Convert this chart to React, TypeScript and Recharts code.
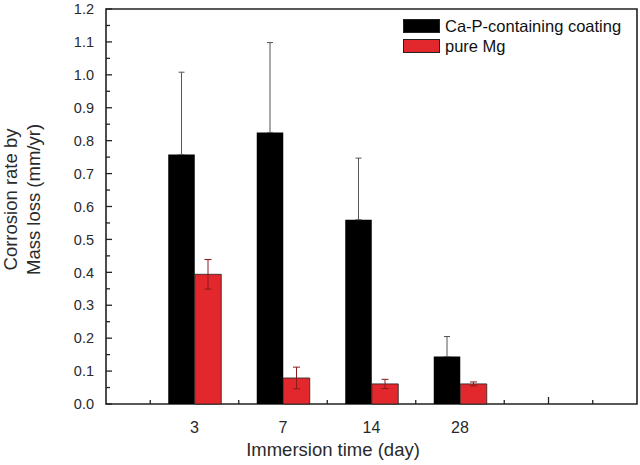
import React from "react";
import { BarChart, Bar, XAxis, YAxis, ErrorBar, Legend, ReferenceArea } from "recharts";

// immersion time categories and where they sit on the x axis
const days = ["3", "7", "14", "28"];
const slots = [1, 2, 3, 4];

// corrosion rate (mm/yr)
const coating = [0.758, 0.825, 0.56, 0.144];
const coatingErr = [0.25, 0.273, 0.187, 0.061];
const pureMg = [0.394, 0.079, 0.061, 0.061];
const pureMgErr = [0.045, 0.033, 0.014, 0.006];

const seriesNames = ["Ca-P-containing coating", "pure Mg"];
const seriesColors = ["#000000", "#e3282d"];

const yMajorTicks = [0, 0.1, 0.2, 0.3, 0.4, 0.5, 0.6, 0.7, 0.8, 0.9, 1.0, 1.1, 1.2];
const yMinorTicks = [0.05, 0.15, 0.25, 0.35, 0.45, 0.55, 0.65, 0.75, 0.85, 0.95, 1.05, 1.15];
const xMarks = [0.5, 1.5, 2.5, 3.5, 4.5, 5, 5.5];
const xLongMarks = [5];

const font = "'Liberation Sans', Arial, Helvetica, sans-serif";
const ink = "#222";
const textInk = "#2a2a2a";

const data = slots.map((slot, i) => ({
  slot,
  day: days[i],
  coating: coating[i],
  coatingErr: [0, coatingErr[i]],
  pureMg: pureMg[i],
  pureMgErr: pureMgErr[i],
}));

const xTicks = [...slots, ...xMarks].sort((a, b) => a - b);
const yTicks = [...yMajorTicks, ...yMinorTicks].sort((a, b) => a - b);

const XTick = (props: any) => {
  const { x, y, payload } = props;
  const idx = slots.indexOf(payload.value);
  if (idx >= 0) {
    return (
      <text x={x} y={y + 29} textAnchor="middle" fontSize={16} fontFamily={font} fill={textInk}>
        {days[idx]}
      </text>
    );
  }
  const len = xLongMarks.includes(payload.value) ? 7 : 4;
  return <line x1={x} y1={y} x2={x} y2={y - len} stroke={ink} strokeWidth={1.3} />;
};

const YTick = (props: any) => {
  const { x, y, payload } = props;
  const major = yMajorTicks.includes(payload.value);
  return (
    <g>
      <line x1={x} y1={y} x2={x + (major ? 6 : 4)} y2={y} stroke={ink} strokeWidth={1.3} />
      {major && (
        <text x={x - 12} y={y} dy="0.36em" textAnchor="end" fontSize={14.5} fontFamily={font} fill={textInk}>
          {payload.value.toFixed(1)}
        </text>
      )}
    </g>
  );
};

const YTitle = (props: any) => {
  const { viewBox } = props;
  const cx = 17;
  const cy = viewBox.y + viewBox.height / 2 - 7;
  return (
    <text
      x={cx}
      y={cy}
      transform={`rotate(-90, ${cx}, ${cy})`}
      textAnchor="middle"
      fontSize={18.5}
      fontFamily={font}
      fill={textInk}
    >
      <tspan x={cx} dy={0}>Corrosion rate by</tspan>
      <tspan x={cx} dy={23}>Mass loss (mm/yr)</tspan>
    </text>
  );
};

const XTitle = (props: any) => {
  const { viewBox } = props;
  return (
    <text x={viewBox.x + 227} y={viewBox.y + 52} textAnchor="middle" fontSize={18.5} fontFamily={font} fill={textInk}>
      Immersion time (day)
    </text>
  );
};

const LegendBox = () => (
  <div style={{ fontFamily: font, fontSize: 16.5, color: "#111" }}>
    {seriesNames.map((name, i) => (
      <div key={name} style={{ display: "flex", alignItems: "center", height: 20 }}>
        <div
          style={{
            width: 37,
            height: 14,
            boxSizing: "border-box",
            background: seriesColors[i],
            border: `1px solid ${ink}`,
            marginRight: 5,
          }}
        />
        <span>{name}</span>
      </div>
    ))}
  </div>
);

const App = () => {
  return (
    <div style={{ position: "absolute", left: 0, top: 0, background: "#fff" }}>
      <BarChart
        width={640}
        height={465}
        data={data}
        margin={{ top: 9, right: 3, left: 0, bottom: 21 }}
        barGap={0}
      >
        <XAxis
          dataKey="slot"
          type="number"
          domain={[0, 6]}
          ticks={xTicks}
          interval={0}
          axisLine={false}
          tickLine={false}
          tickSize={0}
          tickMargin={0}
          height={40}
          tick={XTick}
          label={{ content: XTitle }}
        />
        <YAxis
          domain={[0, 1.2]}
          ticks={yTicks}
          interval={0}
          axisLine={false}
          tickLine={false}
          tickSize={0}
          tickMargin={0}
          width={106}
          tick={YTick}
          label={{ content: YTitle }}
        />
        <Legend
          layout="horizontal"
          verticalAlign="middle"
          align="center"
          content={LegendBox}
          wrapperStyle={{ left: 403, top: 16, width: 230 }}
        />
        <Bar
          dataKey="coating"
          name={seriesNames[0]}
          fill={seriesColors[0]}
          barSize={26.5}
          isAnimationActive={false}
        >
          <ErrorBar dataKey="coatingErr" direction="y" width={3} stroke="#555" strokeWidth={1} />
        </Bar>
        <Bar
          dataKey="pureMg"
          name={seriesNames[1]}
          fill={seriesColors[1]}
          stroke={ink}
          strokeWidth={0.8}
          barSize={26.5}
          isAnimationActive={false}
        >
          <ErrorBar dataKey="pureMgErr" direction="y" width={3.5} stroke="#8a1a1a" strokeWidth={1} />
        </Bar>
        <ReferenceArea
          x1={0}
          x2={6}
          y1={0}
          y2={1.2}
          fill="none"
          stroke={ink}
          strokeWidth={1.6}
          ifOverflow="visible"
        />
      </BarChart>
    </div>
  );
};

export default App;
